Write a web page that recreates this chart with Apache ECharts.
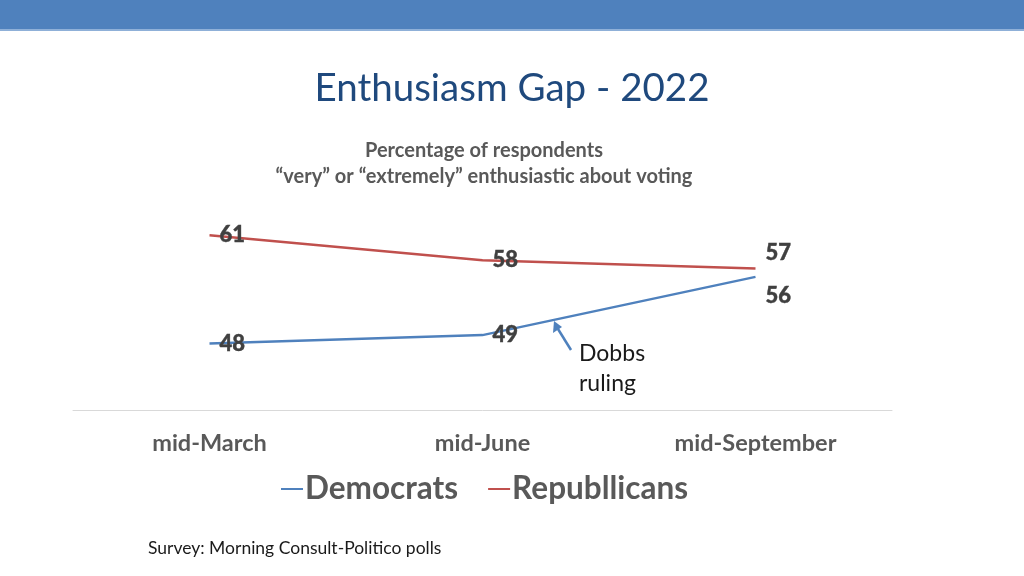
<!DOCTYPE html>
<html><head><meta charset="utf-8">
<script src="https://cdn.jsdelivr.net/npm/echarts@6/dist/echarts.min.js"></script>
<style>html,body{margin:0;padding:0;background:#fff}#c{width:1024px;height:576px}</style>
</head><body><div id="c"></div>
<script>
const categories = ['mid-March', 'mid-June', 'mid-September'];
const democrats = [48, 49, 56];
const republicans = [61, 58, 57];
const titleText = 'Enthusiasm Gap - 2022';
const subtitleText = 'Percentage of respondents\n\u201cvery\u201d or \u201cextremely\u201d enthusiastic about voting';
const sourceText = 'Survey: Morning Consult-Politico polls';

const font = 'Lato, "Open Sans", sans-serif';
const chart = echarts.init(document.getElementById('c'));
function lbl(dy) {
  return {show: true, position: [10, dy], verticalAlign: 'middle', align: 'left', fontFamily: font, fontWeight: 900,
    fontSize: 22, color: '#404040', textBorderColor: '#404040', textBorderWidth: 0.4};
}
const demData = democrats.map((v, i) => ({value: v, label: lbl(i === 2 ? 19 : 0)}));
const repData = republicans.map((v, i) => ({value: v, label: lbl(i === 2 ? -16 : 0)}));

chart.setOption({
  animation: false,
  title: [
    {text: titleText, left: 'center', top: 64, textStyle: {fontFamily: font, fontWeight: 'normal', fontSize: 38.5, color: '#1F497D'}},
    {text: subtitleText, left: 479, textAlign: 'center', top: 133, textStyle: {fontFamily: font, fontWeight: 'bold', fontSize: 20, lineHeight: 26, color: '#595959'}},
    {text: sourceText, left: 143, top: 534, textStyle: {fontFamily: font, fontWeight: 'normal', fontSize: 17.5, color: '#1a1a1a'}}
  ],
  grid: {left: 73, top: 202, width: 819, height: 208},
  xAxis: {
    type: 'category', data: categories, boundaryGap: true,
    axisLine: {lineStyle: {color: '#d9d9d9', width: 1}},
    axisTick: {show: false},
    axisLabel: {margin: 21, fontFamily: font, fontWeight: 'bold', fontSize: 23.5, color: '#595959'}
  },
  yAxis: {type: 'value', min: 40, max: 65, show: false, splitLine: {show: false}},
  legend: {
    top: 468, left: 276, icon: 'rect', itemWidth: 22, itemHeight: 2, itemGap: 30,
    textStyle: {fontFamily: font, fontWeight: 'bold', fontSize: 31.5, color: '#595959', padding: [0, 0, 0, -3]},
    data: ['Democrats', 'Republlicans']
  },
  series: [
    {
      name: 'Democrats', type: 'line', data: demData, showSymbol: true, symbol: 'circle', symbolSize: 0.01,
      lineStyle: {color: '#4F81BD', width: 2.5}, itemStyle: {color: '#4F81BD'}
    },
    {
      name: 'Republlicans', type: 'line', data: repData, showSymbol: true, symbol: 'circle', symbolSize: 0.01,
      lineStyle: {color: '#C0504D', width: 2.5}, itemStyle: {color: '#C0504D'}
    }
  ],
  graphic: [
    {type: 'rect', shape: {x: 0, y: 0, width: 1024, height: 30}, style: {fill: '#4F81BD'}},
    {type: 'rect', shape: {x: 0, y: 29, width: 1024, height: 2}, style: {fill: '#8fb0d8'}},
    {type: 'line', shape: {x1: 571, y1: 350, x2: 558, y2: 329}, style: {stroke: '#4F81BD', lineWidth: 2.5}},
    {type: 'polygon', shape: {points: [[554, 321], [553, 333], [562, 327]]}, style: {fill: '#4F81BD'}},
    {type: 'text', left: 579, top: 339, style: {text: 'Dobbs\nruling', font: '23px ' + font, lineHeight: 30, fill: '#1a1a1a'}}
  ]
});
</script></body></html>
